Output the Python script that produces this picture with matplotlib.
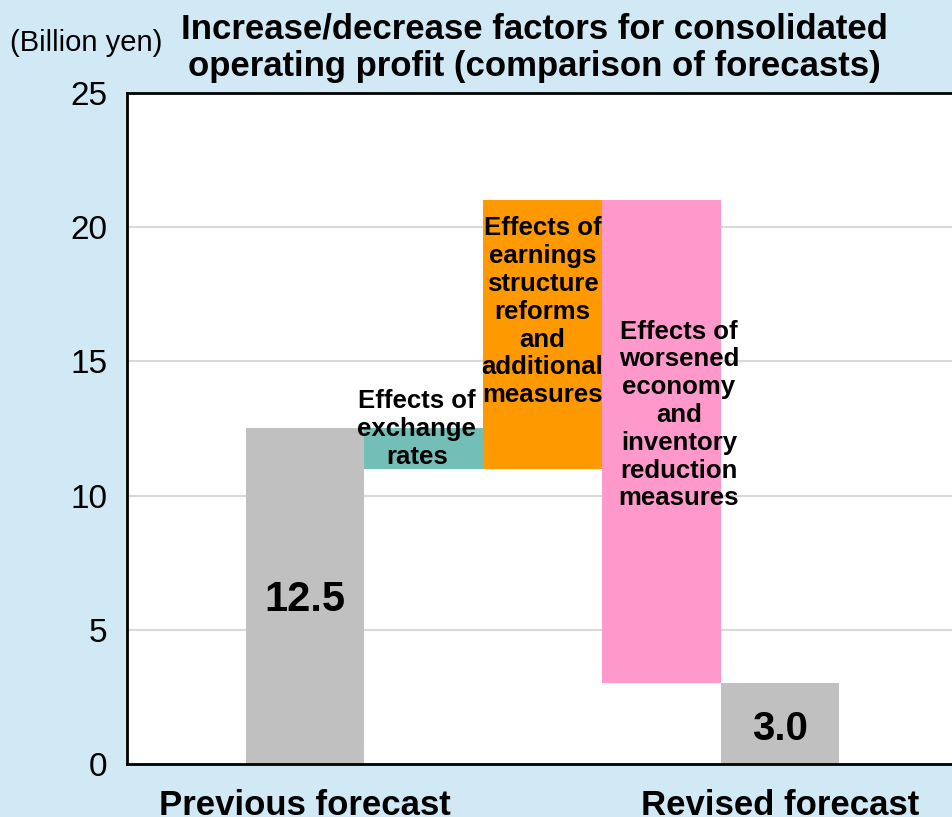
import numpy as np
import matplotlib.pyplot as plt

plt.rcParams['font.family'] = ['Liberation Sans', 'DejaVu Sans']

# waterfall: start value, changes, end value (billion yen)
start_value = 12.5
changes = [-1.5, 10.0, -18.0]
end_value = 3.0
change_labels = ["Effects of\nexchange\nrates",
                 "Effects of\nearnings\nstructure\nreforms\nand\nadditional\nmeasures",
                 "Effects of\nworsened\neconomy\nand\ninventory\nreduction\nmeasures"]
change_colors = ["#73bfb7", "#ff9900", "#ff99cc"]
tick_labels = ["Previous forecast", "Revised forecast"]

bg = "#d1e8f5"
fig = plt.figure(figsize=(9.52, 8.17), dpi=100, facecolor=bg)
ax = fig.add_axes([0.1334, 0.0649, 0.8666, 0.8213])
ax.set_facecolor("white")

x = np.arange(len(changes) + 2)
levels = start_value + np.cumsum([0] + changes)
bottoms = [min(levels[i], levels[i + 1]) for i in range(len(changes))]
heights = [abs(c) for c in changes]

ax.bar(x[0], start_value, width=1.0, color="#c0c0c0", zorder=2)
ax.bar(x[1:-1], heights, bottom=bottoms, width=1.0, color=change_colors, zorder=2)
ax.bar(x[-1], end_value, width=1.0, color="#c0c0c0", zorder=2)

ax.text(x[0], 6.1, f"{start_value:.1f}", ha="center", va="center",
        fontsize=30, fontweight="bold", zorder=3)
ax.text(x[-1], 1.3, f"{end_value:.1f}", ha="center", va="center",
        fontsize=29, fontweight="bold", zorder=3)

# change labels
label_y = [12.48, 16.85, 13.0]
label_x = [x[1] - 0.06, x[2], x[3] + 0.15]
for lx, ly, txt in zip(label_x, label_y, change_labels):
    ax.text(lx, ly, txt, ha="center", va="center", fontsize=18.5,
            fontweight="bold", linespacing=1.2, zorder=3)

ax.set_xlim(-1.5, 5.45)
ax.set_ylim(0, 25)
ax.set_yticks(np.arange(0, 26, 5))
ax.tick_params(axis="y", length=0, labelsize=24, pad=14)
ax.set_xticks([x[0], x[-1]])
ax.set_xticklabels(tick_labels, fontsize=25, fontweight="bold")
ax.tick_params(axis="x", length=0, pad=18)
ax.grid(axis="y", color="#d9d9d9", lw=1.5, zorder=0)
for side in ["left", "bottom", "top"]:
    ax.spines[side].set_linewidth(2)
ax.spines["right"].set_visible(False)

fig.text(0.011, 0.947, "(Billion yen)", fontsize=21, va="center", ha="left")
fig.text(0.561, 0.942, "Increase/decrease factors for consolidated\noperating profit (comparison of forecasts)",
         fontsize=25, fontweight="bold", ha="center", va="center", linespacing=1.17)

fig.savefig("out.png", dpi=100, facecolor=bg)
